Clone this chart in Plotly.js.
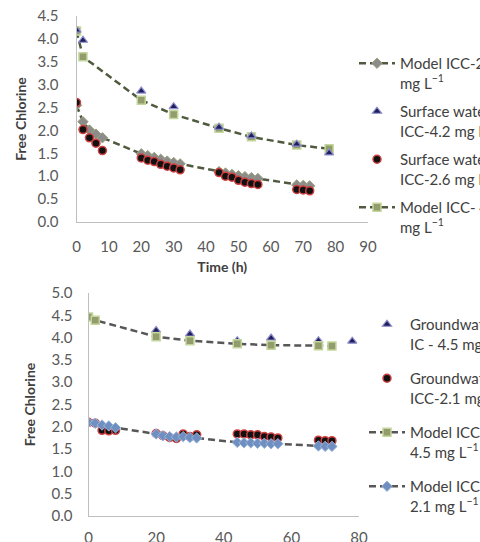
<!DOCTYPE html>
<html>
<head>
<meta charset="utf-8">
<script src="https://cdn.plot.ly/plotly-3.0.1.min.js"></script>
<style>html,body{margin:0;padding:0;background:#fff;}#chart{width:480px;height:542px;}</style>
</head>
<body>
<div id="chart"></div>
<script>
// ---- Top panel (surface water) ----
const tTop42 = [0, 2, 20, 30, 44, 54, 68, 78];
const surface42 = [4.19, 3.97, 2.86, 2.52, 2.07, 1.88, 1.70, 1.51];
const model42 = [4.17, 3.61, 2.66, 2.35, 2.05, 1.86, 1.68, 1.60];
const tTop26 = [0, 2, 4, 6, 8, 20, 22, 24, 26, 28, 30, 32, 44, 46, 48, 50, 52, 54, 56, 68, 70, 72];
const surface26 = [2.61, 2.02, 1.84, 1.72, 1.56, 1.40, 1.35, 1.32, 1.26, 1.22, 1.18, 1.14, 1.08, 1.00, 0.98, 0.91, 0.87, 0.84, 0.82, 0.71, 0.70, 0.68];
const model26 = [2.55, 2.19, 2.01, 1.92, 1.84, 1.49, 1.45, 1.41, 1.37, 1.33, 1.30, 1.27, 1.10, 1.07, 1.04, 1.01, 0.99, 0.97, 0.95, 0.81, 0.80, 0.79];

// ---- Bottom panel (groundwater) ----
const tBotModel45 = [0, 2, 20, 30, 44, 54, 68, 72];
const modelGw45 = [4.46, 4.39, 4.02, 3.93, 3.86, 3.83, 3.82, 3.81];
const tBotGw45 = [0, 20, 30, 44, 54, 68, 78];
const gw45 = [4.47, 4.16, 4.08, 3.93, 3.99, 3.93, 3.92];
const tBot21 = [0, 2, 4, 6, 8, 20, 22, 24, 26, 28, 30, 32, 44, 46, 48, 50, 52, 54, 56, 68, 70, 72];
const gw21 = [2.10, 2.08, 1.92, 1.91, 1.92, 1.85, 1.80, 1.76, 1.74, 1.84, 1.78, 1.82, 1.84, 1.84, 1.82, 1.82, 1.78, 1.77, 1.75, 1.70, 1.69, 1.69];
const modelGw21 = [2.10, 2.08, 2.04, 2.02, 1.98, 1.84, 1.80, 1.78, 1.77, 1.78, 1.76, 1.75, 1.65, 1.64, 1.64, 1.63, 1.63, 1.62, 1.62, 1.57, 1.56, 1.56];

// ---- Legend labels ----
const topNames = ['Model ICC-2.6<br>mg L<sup>−1</sup>', 'Surface water<br>ICC-4.2 mg L<sup>−1</sup>', 'Surface water<br>ICC-2.6 mg L<sup>−1</sup>', 'Model ICC- 4.2<br>mg L<sup>−1</sup>'];
const botNames = ['Groundwater<br>IC - 4.5 mg L<sup>−1</sup>', 'Groundwater<br>ICC-2.1 mg L<sup>−1</sup>', 'Model ICC -<br>4.5 mg L<sup>−1</sup>', 'Model ICC-<br>2.1 mg L<sup>−1</sup>'];

const FONT = 'Lato, "Open Sans", "DejaVu Sans", sans-serif';
const topLine = '#4f5a3e';
const botLine = '#575757';
const dashPat = '7px,4px';

const squareMk = {symbol: 'square', size: 8, color: '#929c6c', line: {color: '#c3d69b', width: 1.5}};
const triMk = {symbol: 'triangle-up', size: 8, color: '#1f1f5c', line: {color: '#8e8ed0', width: 1.2}};
const circMk = {symbol: 'circle', size: 8, color: '#111111', line: {color: '#d04040', width: 1.5}};
const grayDiaMk = {symbol: 'diamond', size: 8, color: '#8c8c8c', line: {color: '#9aa27a', width: 1}};
const blueDiaMk = {symbol: 'diamond', size: 8, color: '#6f8fc0', line: {color: '#9bb5d9', width: 1}};

const traces = [
  // top panel, drawing order
  {x: tTop42, y: model42, name: topNames[3], mode: 'lines+markers', line: {color: topLine, width: 2.5, dash: dashPat}, marker: squareMk, xaxis: 'x', yaxis: 'y', legend: 'legend', legendrank: 4, legendgroup: 't4'},
  {x: tTop26, y: model26, name: topNames[0], mode: 'lines+markers', line: {color: topLine, width: 2.5, dash: dashPat}, marker: grayDiaMk, xaxis: 'x', yaxis: 'y', legend: 'legend', legendrank: 1, legendgroup: 't1'},
  {x: tTop42, y: surface42, name: topNames[1], mode: 'markers', marker: triMk, xaxis: 'x', yaxis: 'y', legend: 'legend', legendrank: 2, legendgroup: 't2'},
  {x: tTop26, y: surface26, name: topNames[2], mode: 'markers', marker: circMk, xaxis: 'x', yaxis: 'y', legend: 'legend', legendrank: 3, legendgroup: 't3'},
  // bottom panel
  {x: tBotGw45, y: gw45, name: botNames[0], mode: 'markers', marker: triMk, xaxis: 'x2', yaxis: 'y2', legend: 'legend2', legendgroup: 'b1'},
  {x: tBot21, y: gw21, name: botNames[1], mode: 'markers', marker: circMk, xaxis: 'x2', yaxis: 'y2', legend: 'legend2', legendgroup: 'b2'},
  {x: tBotModel45, y: modelGw45, name: botNames[2], mode: 'lines+markers', line: {color: botLine, width: 2.5, dash: dashPat}, marker: squareMk, xaxis: 'x2', yaxis: 'y2', legend: 'legend2', legendgroup: 'b3'},
  {x: tBot21, y: modelGw21, name: botNames[3], mode: 'lines+markers', line: {color: botLine, width: 2.5, dash: dashPat}, marker: blueDiaMk, xaxis: 'x2', yaxis: 'y2', legend: 'legend2', legendgroup: 'b4'}
];

const W = 480, H = 542;
const axisCommon = {
  showgrid: false, zeroline: false, showline: true, linecolor: '#bfbfbf', linewidth: 1,
  ticks: '', tickfont: {family: FONT, size: 15, color: '#595959'}, fixedrange: true
};
const legendCommon = {
  xanchor: 'left', yanchor: 'top', valign: 'top', bgcolor: 'rgba(0,0,0,0)',
  font: {family: FONT, size: 15, color: '#404040'}, itemwidth: 36
};
const titleFont = {family: FONT, size: 14, color: '#404040'};

const layout = {
  width: W, height: H,
  margin: {l: 0, r: 0, t: 0, b: 0, autoexpand: false},
  paper_bgcolor: '#ffffff', plot_bgcolor: '#ffffff',
  font: {family: FONT},
  xaxis: Object.assign({}, axisCommon, {
    domain: [76.5 / W, 368 / W], range: [0, 90], dtick: 10, tick0: 0, anchor: 'y', ticklabelstandoff: 11,
    title: {text: '<b>Time (h)</b>', font: titleFont, standoff: 8}
  }),
  yaxis: Object.assign({}, axisCommon, {
    domain: [(H - 222) / H, (H - 16) / H], range: [0, 4.5], dtick: 0.5, tick0: 0, tickformat: '.1f', anchor: 'x', ticklabelstandoff: 14,
    title: {text: '<b>Free Chlorine</b>', font: titleFont, standoff: 7}
  }),
  xaxis2: Object.assign({}, axisCommon, {
    domain: [88.5 / W, 359 / W], range: [0, 80], dtick: 20, tick0: 0, anchor: 'y2', ticklabelstandoff: 8
  }),
  yaxis2: Object.assign({}, axisCommon, {
    domain: [(H - 516) / H, (H - 293) / H], range: [0, 5], dtick: 0.5, tick0: 0, tickformat: '.1f', anchor: 'x2', ticklabelstandoff: 12,
    title: {text: '<b>Free Chlorine</b>', font: titleFont, standoff: 12}
  }),
  legend: Object.assign({}, legendCommon, {x: 354 / W, y: (H - 47) / H, tracegroupgap: 6}),
  legend2: Object.assign({}, legendCommon, {x: 364 / W, y: (H - 308) / H, tracegroupgap: 12})
};

Plotly.newPlot('chart', traces, layout, {displayModeBar: false, staticPlot: true});
</script>
</body>
</html>
